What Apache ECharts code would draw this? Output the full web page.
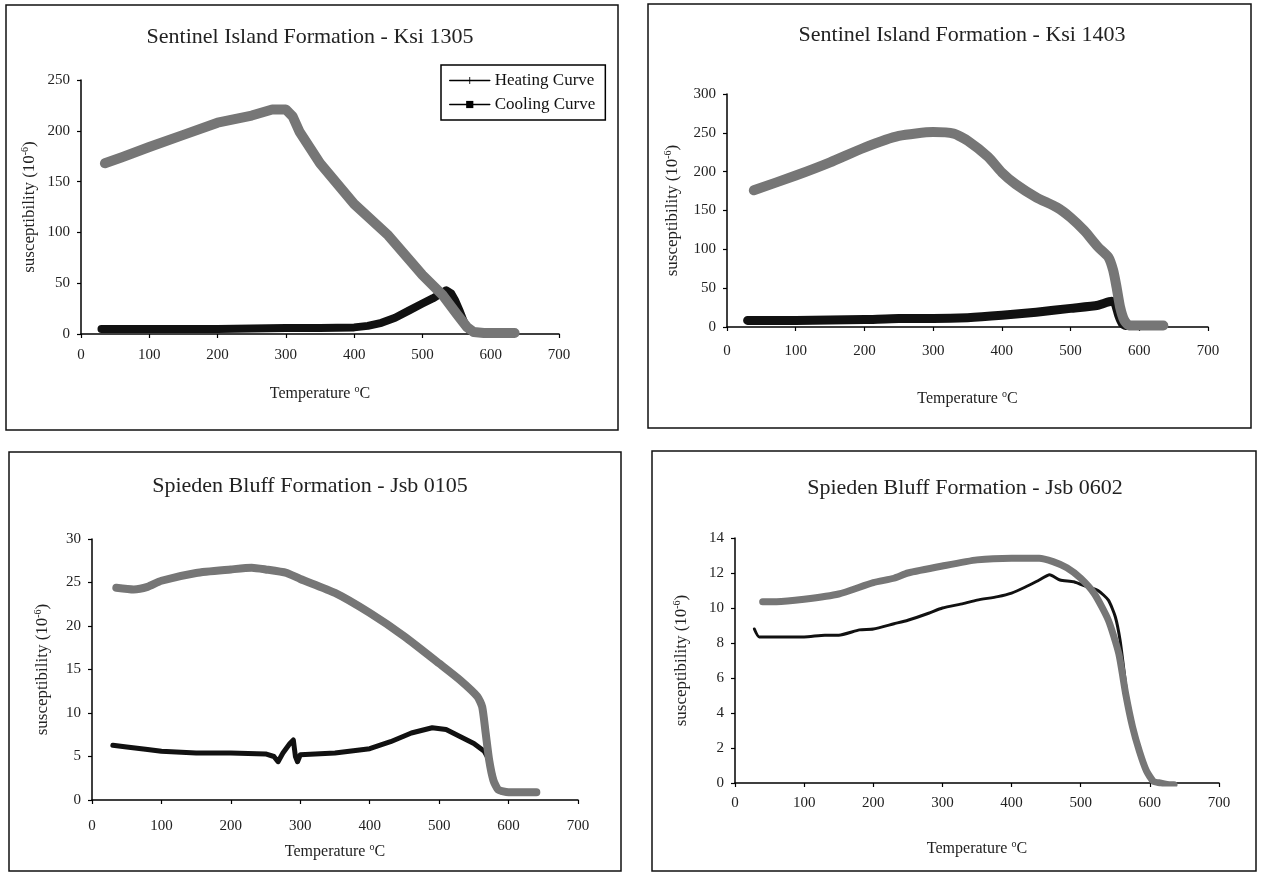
<!DOCTYPE html>
<html>
<head>
<meta charset="utf-8">
<script src="https://cdn.jsdelivr.net/npm/echarts@6/dist/echarts.min.js"></script>
<style>
html,body{margin:0;padding:0;background:#fff;}
#chart{width:1264px;height:872px;}
</style>
</head>
<body>
<div id="chart"></div>
<script>
// ---------- DATA ----------
const titles = [
  'Sentinel Island Formation - Ksi 1305',
  'Sentinel Island Formation - Ksi 1403',
  'Spieden Bluff Formation - Jsb 0105',
  'Spieden Bluff Formation - Jsb 0602'
];
const xTicks = [0, 100, 200, 300, 400, 500, 600, 700];
const yMax = [250, 300, 30, 14];
const yStep = [50, 50, 5, 2];

// Ksi 1305
const ksi1305HeatT = [30, 50, 100, 150, 200, 250, 300, 350, 400, 420, 440, 460, 480, 500, 515, 525, 535, 542, 548, 555, 562, 570, 580];
const ksi1305HeatK = [5, 5, 5, 5, 5, 5.5, 6, 6, 6.5, 8, 11, 16, 23, 30, 35, 39, 43, 40, 33, 22, 10, 3, 1];
const ksi1305CoolT = [35, 60, 100, 150, 200, 250, 280, 300, 310, 320, 350, 400, 450, 500, 530, 550, 565, 575, 590, 610, 635];
const ksi1305CoolK = [168, 174, 184, 196, 208, 215, 221, 221, 214, 199, 168, 128, 97, 58, 38, 20, 7, 2, 1, 1, 1];

// Ksi 1403
const ksi1403HeatT = [30, 100, 150, 200, 250, 300, 350, 400, 450, 500, 540, 560, 565, 570, 575, 580, 590];
const ksi1403HeatK = [8.5, 8.5, 9, 9.5, 11, 11, 12, 15, 19, 24, 28, 33, 30, 15, 5, 2, 2];
const ksi1403CoolT = [39, 100, 150, 200, 250, 300, 330, 350, 380, 400, 420, 450, 480, 500, 520, 540, 555, 562, 567, 572, 578, 585, 610, 635];
const ksi1403CoolK = [176, 195, 212, 231, 246, 251, 249, 240, 219, 199, 184, 167, 154, 141, 124, 103, 90, 73, 51, 26, 9, 2, 2, 2];

// Jsb 0105
const jsb0105HeatT = [30, 50, 80, 100, 150, 200, 250, 262, 268, 275, 285, 290, 293, 296, 300, 350, 400, 430, 460, 490, 510, 530, 550, 565, 572, 578, 583, 590];
const jsb0105HeatK = [6.3, 6.1, 5.8, 5.6, 5.4, 5.4, 5.3, 5.0, 4.4, 5.4, 6.5, 6.9, 5.0, 4.4, 5.2, 5.4, 5.9, 6.7, 7.7, 8.3, 8.1, 7.3, 6.5, 5.6, 4.6, 2.7, 1.2, 0.9];
const jsb0105CoolT = [35, 60, 80, 100, 150, 200, 230, 250, 280, 300, 350, 400, 450, 500, 530, 555, 562, 567, 572, 578, 585, 600, 640];
const jsb0105CoolK = [24.4, 24.2, 24.5, 25.2, 26.1, 26.5, 26.7, 26.5, 26.1, 25.4, 23.8, 21.5, 18.8, 15.7, 13.8, 11.9, 10.7, 7.7, 4.6, 2.3, 1.2, 0.9, 0.9];

// Jsb 0602
const jsb0602HeatT = [28, 35, 60, 100, 130, 150, 180, 200, 230, 250, 280, 300, 330, 350, 380, 400, 420, 440, 455, 470, 490, 510, 525, 540, 550, 557, 562, 568, 575, 585, 595, 605, 612];
const jsb0602HeatK = [8.8, 8.35, 8.35, 8.35, 8.45, 8.45, 8.75, 8.8, 9.1, 9.3, 9.7, 10.0, 10.25, 10.45, 10.65, 10.85, 11.2, 11.6, 11.9, 11.6, 11.5, 11.2, 11.0, 10.45, 9.5, 8.15, 6.6, 4.7, 3.2, 1.8, 0.7, 0.1, 0];
const jsb0602CoolT = [40, 60, 100, 150, 200, 230, 250, 300, 350, 400, 440, 460, 480, 500, 520, 540, 555, 565, 575, 585, 595, 605, 615, 630, 635];
const jsb0602CoolK = [10.36, 10.36, 10.5, 10.8, 11.45, 11.7, 12.0, 12.4, 12.75, 12.85, 12.85, 12.65, 12.3, 11.7, 10.8, 9.3, 7.4, 5.1, 3.2, 1.8, 0.7, 0.1, 0, -0.1, -0.1];

// ---------- BUILD ----------
const FONT = '"Liberation Serif", "Times New Roman", serif';
const heatSets = [[ksi1305HeatT, ksi1305HeatK], [ksi1403HeatT, ksi1403HeatK], [jsb0105HeatT, jsb0105HeatK], [jsb0602HeatT, jsb0602HeatK]];
const coolSets = [[ksi1305CoolT, ksi1305CoolK], [ksi1403CoolT, ksi1403CoolK], [jsb0105CoolT, jsb0105CoolK], [jsb0602CoolT, jsb0602CoolK]];
const zip = (a, b) => a.map((v, i) => [v, b[i]]);

const grids = [
  {left: 81, top: 80, width: 478, height: 254},
  {left: 727, top: 94, width: 481, height: 233},
  {left: 92, top: 539, width: 486, height: 261},
  {left: 735, top: 538, width: 484, height: 245}
];
const xNameGap = [50, 62, 42, 56];
const xLabelMargin = [14, 17, 19, 13];
const yNameGap = [41, 44, 39, 43];
const heatWidth = [8, 9, 5, 3];
const coolWidth = [10, 10, 8, 7];
const heatSmooth = [0, 0.2, 0, 0.2];
const coolSmooth = [0, 0.2, 0.2, 0.2];
const titlePos = [[310, 37], [962, 35], [310, 486], [965, 488]];
const borders = [[6, 5, 612, 425], [648, 4, 603, 424], [9, 452, 612, 419], [652, 451, 604, 420]];

const richName = {
  sup: {fontSize: 10, fontFamily: FONT, color: '#222', verticalAlign: 'top', lineHeight: 20}
};

const xAxes = grids.map((g, i) => ({
  type: 'value', gridIndex: i, min: 0, max: 700, interval: 100,
  name: 'Temperature {sup|o}C', nameLocation: 'middle', nameGap: xNameGap[i],
  nameTextStyle: {fontFamily: FONT, fontSize: 16, color: '#222', lineHeight: 20, rich: richName},
  axisLine: {lineStyle: {color: '#000', width: 1.5}},
  axisTick: {show: true, inside: false, length: 4, lineStyle: {color: '#000', width: 1.2}},
  axisLabel: {fontFamily: FONT, fontSize: 15, color: '#222', margin: xLabelMargin[i],
    formatter: v => xTicks.indexOf(v) >= 0 ? String(v) : ''},
  splitLine: {show: false}
}));
const yAxes = grids.map((g, i) => ({
  type: 'value', gridIndex: i, min: 0, max: yMax[i], interval: yStep[i],
  name: 'susceptibility (10{sup|-6})', nameLocation: 'middle', nameGap: yNameGap[i], nameRotate: 90,
  nameTextStyle: {fontFamily: FONT, fontSize: 17, color: '#222', lineHeight: 20, rich: richName},
  axisLine: {show: true, onZero: false, lineStyle: {color: '#000', width: 1.5}},
  axisTick: {show: true, inside: false, length: 4, lineStyle: {color: '#000', width: 1.2}},
  axisLabel: {fontFamily: FONT, fontSize: 15, color: '#222', margin: 11},
  splitLine: {show: false}
}));

const HEAT_SYMBOL = 'path://M4.4,0h1.2v10h-1.2z M0,4.6h10v0.8h-10z';
const series = [];
for (let i = 0; i < 4; i++) {
  series.push({
    name: 'Heating Curve', type: 'line', xAxisIndex: i, yAxisIndex: i,
    data: zip(heatSets[i][0], heatSets[i][1]),
    symbol: HEAT_SYMBOL, showSymbol: false, smooth: heatSmooth[i],
    lineStyle: {color: '#111', width: heatWidth[i], join: 'round', cap: 'round'},
    itemStyle: {color: '#111'}, z: 2
  });
}
for (let i = 0; i < 4; i++) {
  series.push({
    name: 'Cooling Curve', type: 'line', xAxisIndex: i, yAxisIndex: i,
    data: zip(coolSets[i][0], coolSets[i][1]),
    symbol: 'rect', showSymbol: false, smooth: coolSmooth[i],
    lineStyle: {color: '#767676', width: coolWidth[i], join: 'round', cap: 'round'},
    itemStyle: {color: '#767676'}, z: 3
  });
}

const graphics = [];
borders.forEach(b => graphics.push({
  type: 'rect', silent: true, z: 0,
  shape: {x: b[0], y: b[1], width: b[2], height: b[3]},
  style: {fill: 'none', stroke: '#111', lineWidth: 1.5}
}));
titles.forEach((t, i) => graphics.push({
  type: 'text', silent: true, z: 10, x: titlePos[i][0], y: titlePos[i][1],
  style: {text: t, fill: '#222', font: '22px ' + FONT, textAlign: 'center', textVerticalAlign: 'middle'}
}));

const chart = echarts.init(document.getElementById('chart'), null, {renderer: 'canvas'});
chart.setOption({
  animation: false,
  backgroundColor: '#fff',
  grid: grids,
  xAxis: xAxes,
  yAxis: yAxes,
  legend: {
    data: ['Heating Curve', 'Cooling Curve'],
    orient: 'vertical', left: 441, top: 65,
    itemWidth: 40, itemHeight: 9, itemGap: 7,
    padding: [7, 10, 7, 8],
    borderColor: '#000', borderWidth: 1.5, backgroundColor: '#fff',
    textStyle: {fontFamily: FONT, fontSize: 17, color: '#111'},
    lineStyle: {width: 1.5, color: '#000'},
    itemStyle: {color: '#000', borderWidth: 0},
    selectedMode: false
  },
  graphic: graphics,
  series: series
});
</script>
</body>
</html>
